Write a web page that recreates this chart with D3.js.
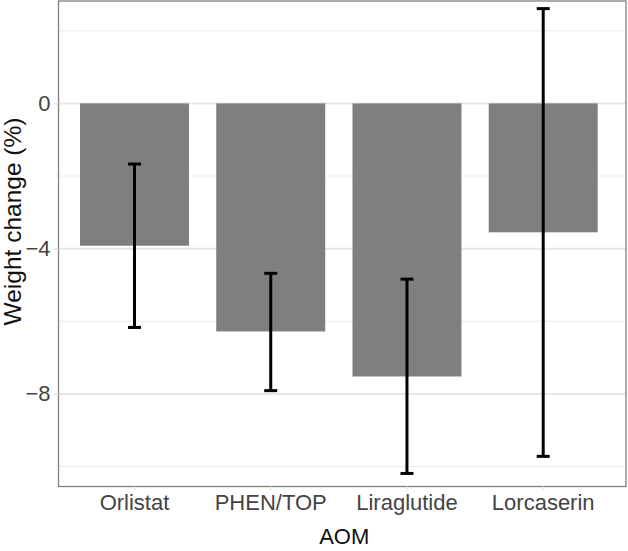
<!DOCTYPE html>
<html><head><meta charset="utf-8">
<script src="https://cdn.jsdelivr.net/npm/d3@7"></script>
<style>body{margin:0;background:#fff}svg{display:block}text{font-family:"Liberation Sans",Arial,sans-serif}</style>
</head><body><svg id="c" width="628" height="551"></svg>
<script>
const categories = ["Orlistat", "PHEN/TOP", "Liraglutide", "Lorcaserin"];
const meanChange = [-3.92, -6.28, -7.52, -3.55];
const ciUpper = [-1.67, -4.68, -4.84, 2.61];
const ciLower = [-6.17, -7.91, -10.19, -9.72];
const majorTicks = [0, -4, -8];
const minorTicks = [2, -2, -6, -10];
const xTitle = "AOM";
const yTitle = "Weight change (%)";

const svg = d3.select("#c");
const P = {l: 58.5, r: 626, t: 1, b: 486.5};
const y = d3.scaleLinear().domain([-10.55, 2.82]).range([P.b, P.t]);
const x = d3.scaleBand().domain(categories).range([80, 597.7]).paddingInner(0.2).paddingOuter(0);

// gridlines
svg.append("g").selectAll("line").data(minorTicks).join("line")
  .attr("x1", P.l).attr("x2", P.r).attr("y1", d => y(d)).attr("y2", d => y(d))
  .attr("stroke", "#ececec").attr("stroke-width", 1);
svg.append("g").selectAll("line").data(majorTicks).join("line")
  .attr("x1", P.l).attr("x2", P.r).attr("y1", d => y(d)).attr("y2", d => y(d))
  .attr("stroke", "#e6e6e6").attr("stroke-width", 2);

// bars
svg.append("g").selectAll("rect").data(categories).join("rect")
  .attr("x", d => x(d)).attr("width", x.bandwidth())
  .attr("y", (d, i) => y(Math.max(0, meanChange[i])))
  .attr("height", (d, i) => Math.abs(y(meanChange[i]) - y(0)))
  .attr("fill", "#7f7f7f");

// error bars
const eb = svg.append("g").attr("stroke", "#000").attr("stroke-width", 3);
categories.forEach((c, i) => {
  const cx = x(c) + x.bandwidth() / 2;
  eb.append("line").attr("x1", cx).attr("x2", cx).attr("y1", y(ciUpper[i])).attr("y2", y(ciLower[i]));
  eb.append("line").attr("x1", cx - 6.5).attr("x2", cx + 6.5).attr("y1", y(ciUpper[i])).attr("y2", y(ciUpper[i]));
  eb.append("line").attr("x1", cx - 6.5).attr("x2", cx + 6.5).attr("y1", y(ciLower[i])).attr("y2", y(ciLower[i]));
});

// panel border
svg.append("rect").attr("x", P.l).attr("y", P.t).attr("width", P.r - P.l).attr("height", P.b - P.t)
  .attr("fill", "none").attr("stroke", "#808080").attr("stroke-width", 1.3);

// y axis
const yAxis = svg.append("g").attr("transform", `translate(${P.l},0)`)
  .call(d3.axisLeft(y).tickValues(majorTicks).tickSize(5).tickPadding(3).tickFormat(d => d === 0 ? "0" : "\u2212" + Math.abs(d)));
yAxis.select(".domain").remove();
yAxis.selectAll(".tick line").attr("stroke", "#e0e0e0").attr("stroke-width", 1.5);
yAxis.selectAll(".tick text").attr("fill", "#444").style("font-size", "22px").attr("font-family", null);

// x axis
const xAxis = svg.append("g").attr("transform", `translate(0,${P.b})`)
  .call(d3.axisBottom(x).tickSize(4).tickPadding(4));
xAxis.select(".domain").remove();
xAxis.selectAll(".tick line").attr("stroke", "#e6e6e6").attr("stroke-width", 1.5);
xAxis.selectAll(".tick text").attr("fill", "#444").style("font-size", "22px").attr("font-family", null);

svg.append("text").attr("x", (P.l + P.r) / 2 + 2).attr("y", 543.5).attr("text-anchor", "middle")
  .style("font-size", "22px").attr("fill", "#111").text(xTitle);
svg.append("text").attr("transform", "translate(21,221.5) rotate(-90)").attr("text-anchor", "middle")
  .style("font-size", "24.5px").attr("fill", "#111").text(yTitle);
</script></body></html>
